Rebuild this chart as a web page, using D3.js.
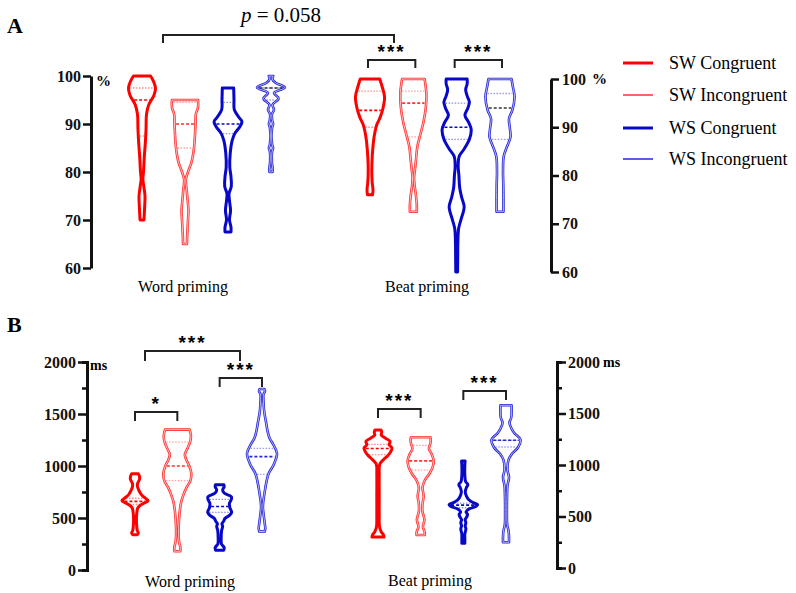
<!DOCTYPE html>
<html>
<head>
<meta charset="utf-8">
<script src="https://cdn.jsdelivr.net/npm/d3@7/dist/d3.min.js"></script>
<style>
  body { margin: 0; background: #fff; }
  svg { font-family: "Liberation Serif", "Times New Roman", serif; }
  .axis path, .axis line { stroke: #111; }
</style>
</head>
<body>
<div class="chart"></div>
<script>
// ---- data ----
var groups = ["Word priming", "Beat priming"];
var conditions = ["SW Congruent", "SW Incongruent", "WS Congruent", "WS Incongruent"];

// violin outlines: [value, relative half width]
var accWordProfiles = [
  [[70,0.13],[71,0.15],[73,0.18],[75,0.2],[77,0.12],[78.5,0.06],[80,0.1],[83,0.15],[86,0.22],[89,0.27],[92,0.3],[94,0.45],[96,0.8],[97.5,0.9],[99,0.75],[100,0.57]],
  [[65,0.13],[67,0.15],[70,0.2],[72,0.23],[74,0.18],[76,0.12],[78.5,0.06],[80,0.2],[82,0.43],[85,0.6],[88,0.67],[90,0.7],[92,0.72],[93.5,0.87],[95,0.87]],
  [[67.5,0.2],[68.5,0.2],[70,0.1],[72,0.17],[74,0.1],[75.5,0.07],[77,0.22],[79,0.2],[81,0.12],[84,0.15],[86.5,0.27],[88,0.45],[89.5,0.8],[90.5,0.93],[91.5,0.7],[93,0.42],[95,0.4],[97.5,0.38]],
  [[80,0.1],[80.5,0.12],[82,0.06],[84.2,0.07],[85,0.14],[85.8,0.07],[89.2,0.07],[90,0.14],[90.8,0.08],[92,0.06],[93,0.2],[94,0.1],[95.3,0.5],[96.5,0.2],[97.6,0.93],[98.6,0.3],[99.3,0.1],[100,0.15]]
];
var accBeatProfiles = [
  [[76,0.17],[77,0.2],[78.5,0.15],[81,0.12],[84,0.15],[87,0.23],[89,0.33],[90.5,0.45],[92,0.67],[94,0.87],[96.3,0.97],[98.5,0.8],[100,0.65]],
  [[72.5,0.23],[74,0.23],[76,0.17],[78,0.08],[79.5,0.05],[81,0.1],[83,0.17],[86,0.27],[88.5,0.47],[91,0.67],[94,0.83],[97,0.87],[99,0.8],[100,0.75]],
  [[60,0.06],[63,0.07],[66,0.08],[69,0.13],[71,0.3],[73.5,0.5],[75.5,0.33],[77.5,0.2],[80,0.15],[82,0.1],[84,0.17],[85.5,0.5],[87.5,0.85],[89.5,0.97],[91,0.8],[92.5,0.55],[94,0.75],[95.2,0.85],[96.5,0.7],[97.8,0.6],[99,0.7],[100,0.7]],
  [[72.5,0.23],[75,0.23],[78,0.22],[81,0.2],[84,0.25],[86,0.47],[88,0.7],[90,0.65],[91.8,0.6],[93.6,0.83],[96.4,0.97],[98.5,0.85],[100,0.77]]
];
var rtWordProfiles = [
  [[340,0.15],[355,0.22],[380,0.15],[450,0.1],[550,0.12],[600,0.2],[635,0.5],[665,0.87],[690,0.7],[720,0.45],[760,0.28],[800,0.17],[830,0.17],[870,0.3],[900,0.3],[925,0.22]],
  [[180,0.2],[220,0.2],[270,0.12],[350,0.08],[450,0.1],[550,0.15],[650,0.25],[720,0.4],[790,0.6],[860,0.87],[930,0.93],[1000,0.8],[1060,0.6],[1110,0.5],[1170,0.68],[1240,0.87],[1300,0.9],[1350,0.82]],
  [[190,0.27],[215,0.3],[250,0.12],[300,0.1],[380,0.13],[420,0.2],[445,0.15],[470,0.27],[495,0.35],[525,0.65],[555,0.8],[600,0.68],[640,0.65],[680,0.78],[705,0.78],[740,0.3],[770,0.2],[800,0.3],[820,0.28]],
  [[370,0.18],[400,0.22],[450,0.18],[520,0.12],[600,0.06],[650,0.08],[750,0.18],[850,0.3],[930,0.45],[1020,0.8],[1120,1.0],[1200,0.78],[1270,0.5],[1330,0.38],[1420,0.27],[1520,0.15],[1620,0.1],[1690,0.1],[1720,0.2],[1740,0.15]]
];
var rtBeatProfiles = [
  [[300,0.4],[320,0.37],[350,0.22],[400,0.1],[500,0.08],[700,0.08],[900,0.08],[1010,0.12],[1050,0.35],[1090,0.65],[1130,0.85],[1165,0.93],[1195,0.75],[1230,0.8],[1260,0.5],[1290,0.22],[1320,0.25],[1340,0.2]],
  [[320,0.27],[350,0.27],[400,0.15],[470,0.25],[550,0.12],[620,0.12],[700,0.2],[780,0.12],[850,0.27],[920,0.6],[980,0.8],[1040,0.87],[1100,0.75],[1160,0.55],[1210,0.65],[1250,0.67],[1270,0.65]],
  [[240,0.1],[280,0.1],[330,0.1],[380,0.17],[410,0.12],[440,0.17],[470,0.12],[495,0.22],[520,0.28],[545,0.18],[570,0.35],[600,0.85],[615,0.95],[635,0.65],[665,0.35],[700,0.2],[740,0.13],[780,0.2],[810,0.3],[840,0.15],[900,0.1],[1000,0.1],[1040,0.12]],
  [[250,0.2],[300,0.2],[360,0.17],[420,0.08],[550,0.06],[700,0.07],[800,0.1],[880,0.2],[950,0.1],[1050,0.17],[1110,0.4],[1170,0.8],[1245,0.97],[1310,0.55],[1360,0.35],[1410,0.23],[1460,0.35],[1580,0.37]]
];

// [Q1, median, Q3]
var accWordQuartiles = [[87.5,95,97.5],[85,90,94.5],[88,90,94.5],[95,97.5,97.5]];
var accBeatQuartiles = [[90,93.5,97.5],[88,95,97.5],[87.5,90,95],[87.5,94,97]];
var rtWordQuartiles  = [[630,660,690],[860,1000,1230],[555,610,680],[920,1090,1170]];
var rtBeatQuartiles  = [[1100,1160,1200],[950,1040,1190],[585,610,630],[1175,1240,1240]];

var accTicks = [60, 70, 80, 90, 100];
var rtTicks = [0, 500, 1000, 1500, 2000];
var rtMinorTicks = [250, 750, 1250, 1750];

// significance brackets: [group, from condition, to condition, label]
var accSignif = [[1, 0, 1, "***"], [1, 2, 3, "***"]];
var rtSignif = [[0, 0, 1, "*"], [0, 2, 3, "***"], [1, 0, 1, "***"], [1, 2, 3, "***"]];

// ---- drawing ----
var width = 796, height = 593;
var colors = ["#ff0000", "#ff3030", "#0808c8", "#2626d6"];
var thick = [true, false, true, false];

var svg = d3.select(".chart").append("svg")
            .attr("width", width)
            .attr("height", height);

var halfWidth = d3.scaleLinear().domain([0, 1]).range([0, 15]);

// interpolated outline width at a quartile (for the quartile lines)
function widthAt(profile, v) {
  for (var i = 0; i < profile.length - 1; i++) {
    var a = profile[i], b = profile[i + 1];
    if (v >= a[0] && v <= b[0]) {
      var t = (v - a[0]) / (b[0] - a[0] || 1);
      return a[1] + t * (b[1] - a[1]);
    }
  }
  return profile[profile.length - 1][1];
}

function drawViolins(g, profiles, quartiles, x, y, darkMedian) {
  profiles.forEach(function(profile, i) {
    var cx = x(conditions[i]);
    var area = d3.area()
                 .curve(d3.curveCatmullRom.alpha(0.5))
                 .y(function(d) { return y(d[0]); })
                 .x0(function(d) { return cx - halfWidth(d[1]); })
                 .x1(function(d) { return cx + halfWidth(d[1]); });
    var vg = g.append("g");
    vg.append("path")
      .attr("d", area(profile))
      .attr("fill", "none")
      .attr("stroke", colors[i])
      .attr("stroke-width", thick[i] ? 3 : 2.6)
      .attr("stroke-linejoin", "round");
    if (!thick[i]) {
      vg.append("path")
        .attr("d", area(profile))
        .attr("fill", "none")
        .attr("stroke", "#fff")
        .attr("stroke-opacity", 0.75)
        .attr("stroke-width", 0.9);
    }
    quartiles[i].forEach(function(q, k) {
      var w = halfWidth(widthAt(profile, q)) - 1.5;
      if (w < 1) return;
      var median = k == 1;
      vg.append("line")
        .attr("x1", cx - w).attr("x2", cx + w)
        .attr("y1", y(q)).attr("y2", y(q))
        .attr("stroke", median && darkMedian && i == 3 ? "#333" : colors[i])
        .attr("stroke-opacity", median ? 1 : 0.45)
        .attr("stroke-width", median ? 1.6 : 1.3)
        .attr("stroke-dasharray", median ? "3,2" : "1.5,1.5");
    });
  });
}

function bracket(x1, x2, yTop, drop, label, labelY) {
  svg.append("path")
     .attr("d", "M" + x1 + "," + (yTop + drop) + "V" + yTop + "H" + x2 + "V" + (yTop + drop))
     .attr("fill", "none")
     .attr("stroke", "#222")
     .attr("stroke-width", 2);
  svg.append("text")
     .attr("x", (x1 + x2) / 2)
     .attr("y", labelY)
     .attr("text-anchor", "middle")
     .attr("font-family", "Liberation Sans, Arial, sans-serif")
     .attr("font-weight", "bold")
     .attr("font-size", 19)
     .attr("letter-spacing", 2)
     .text(label);
}

function drawAxis(gen, tx, strokeW) {
  var g = svg.append("g")
             .attr("class", "axis")
             .attr("transform", "translate(" + tx + ",0)")
             .call(gen);
  g.select(".domain").attr("stroke-width", 3);
  g.selectAll(".tick line").attr("stroke-width", strokeW);
  g.selectAll(".tick text")
   .attr("font-family", "Liberation Serif, Times New Roman, serif")
   .attr("font-weight", "bold")
   .attr("font-size", 16)
   .attr("fill", "#111");
  return g;
}

// ===== Panel A: accuracy =====
var yAccL = d3.scaleLinear().domain([60, 100]).range([268, 76]);
var yAccR = d3.scaleLinear().domain([60, 100]).range([272, 79]);
var xAccWord = d3.scalePoint().domain(conditions).range([142, 271]);
var xAccBeat = d3.scalePoint().domain(conditions).range([370, 500]);

drawAxis(d3.axisLeft(yAccL).tickValues(accTicks).tickSize(8).tickSizeOuter(0).tickPadding(2), 91, 2.5);
drawAxis(d3.axisRight(yAccR).tickValues(accTicks).tickSize(8).tickSizeOuter(0).tickPadding(3), 551, 2.5);

svg.append("text").attr("x", 96).attr("y", 86)
   .attr("font-weight", "bold").attr("font-size", 15).text("%");
svg.append("text").attr("x", 592).attr("y", yAccR(100) + 5)
   .attr("font-weight", "bold").attr("font-size", 15).text("%");

var gA = svg.append("g");
drawViolins(gA, accWordProfiles, accWordQuartiles, xAccWord, yAccL, true);
drawViolins(gA, accBeatProfiles, accBeatQuartiles, xAccBeat, yAccR, true);

svg.append("text").attr("x", 183).attr("y", 292)
   .attr("text-anchor", "middle").attr("font-size", 16).text(groups[0]);
svg.append("text").attr("x", 427).attr("y", 292)
   .attr("text-anchor", "middle").attr("font-size", 16).text(groups[1]);

// p-value bracket between the two congruent SW conditions
svg.append("path")
   .attr("d", "M163,43V35H394V43")
   .attr("fill", "none").attr("stroke", "#222").attr("stroke-width", 2);
var pText = svg.append("text").attr("x", 281).attr("y", 22)
               .attr("text-anchor", "middle").attr("font-size", 21);
pText.append("tspan").attr("font-style", "italic").text("p");
pText.append("tspan").text(" = 0.058");

accSignif.forEach(function(s) {
  var xs = s[0] == 0 ? xAccWord : xAccBeat;
  bracket(xs(conditions[s[1]]) - 2, xs(conditions[s[2]]) + 2, 60, 8, s[3], 58);
});

// ===== Panel B: reaction time =====
var yRtL = d3.scaleLinear().domain([0, 2000]).range([570, 362]);
var yRtR = d3.scaleLinear().domain([0, 2000]).range([568, 362]);
var xRtWord = d3.scalePoint().domain(conditions).range([135, 262]);
var xRtBeat = d3.scalePoint().domain(conditions).range([378, 506]);

drawAxis(d3.axisLeft(yRtL).tickValues(rtMinorTicks).tickSize(5).tickFormat(""), 87, 2.5);
drawAxis(d3.axisLeft(yRtL).tickValues(rtTicks).tickSize(9).tickSizeOuter(0).tickPadding(2).tickFormat(d3.format("d")), 87, 2.5);
drawAxis(d3.axisRight(yRtR).tickValues(rtMinorTicks).tickSize(5).tickFormat(""), 557, 2.5);
drawAxis(d3.axisRight(yRtR).tickValues(rtTicks).tickSize(9).tickSizeOuter(0).tickPadding(2).tickFormat(d3.format("d")), 557, 2.5);

svg.append("text").attr("x", 90).attr("y", 370)
   .attr("font-weight", "bold").attr("font-size", 14).text("ms");
svg.append("text").attr("x", 603).attr("y", yRtR(2000) + 5)
   .attr("font-weight", "bold").attr("font-size", 14).text("ms");

var gB = svg.append("g");
drawViolins(gB, rtWordProfiles, rtWordQuartiles, xRtWord, yRtL, false);
drawViolins(gB, rtBeatProfiles, rtBeatQuartiles, xRtBeat, yRtR, false);

svg.append("text").attr("x", 190).attr("y", 587)
   .attr("text-anchor", "middle").attr("font-size", 16).text(groups[0]);
svg.append("text").attr("x", 430).attr("y", 586)
   .attr("text-anchor", "middle").attr("font-size", 16).text(groups[1]);

// brackets in B sit at different heights
var rtBracketY = [412, 378, 409, 391];
rtSignif.forEach(function(s, i) {
  var xs = s[0] == 0 ? xRtWord : xRtBeat;
  bracket(xs(conditions[s[1]]), xs(conditions[s[2]]), rtBracketY[i], 9, s[3], rtBracketY[i] - 2);
});
// congruent SW vs congruent WS in word priming
bracket(145, 240, 351, 10, "***", 349);

// panel letters
svg.append("text").attr("x", 7).attr("y", 33)
   .attr("font-weight", "bold").attr("font-size", 22).text("A");
svg.append("text").attr("x", 7).attr("y", 332)
   .attr("font-weight", "bold").attr("font-size", 22).text("B");

// ===== legend =====
var legend = svg.selectAll("g.legend")
                .data(conditions)
                .enter().append("g")
                .attr("class", "legend")
                .attr("transform", function(d, i) { return "translate(623," + [63, 95, 128, 159][i] + ")"; });
legend.append("line")
      .attr("x1", 0).attr("x2", 30)
      .attr("stroke", function(d, i) { return colors[i]; })
      .attr("stroke-width", function(d, i) { return thick[i] ? 3 : 1.5; });
legend.append("text")
      .attr("x", 46).attr("y", 6)
      .attr("font-size", 18)
      .text(function(d) { return d; });
</script>
</body>
</html>
